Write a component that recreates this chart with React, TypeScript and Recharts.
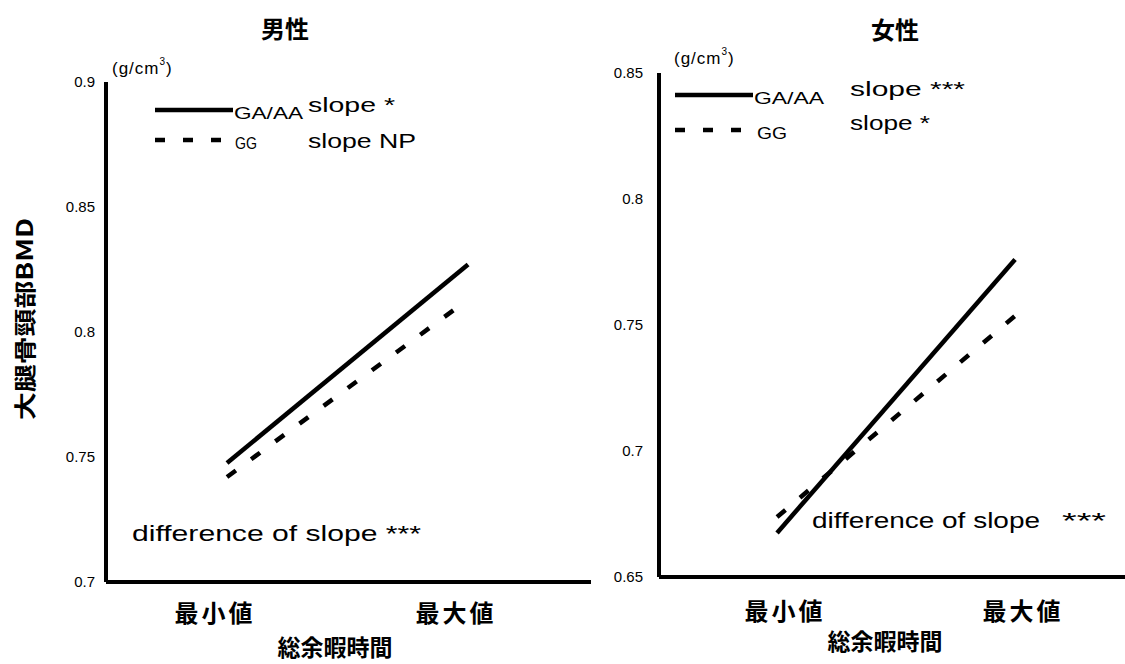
import React from "react";
import { LineChart, Line, XAxis, YAxis, Legend } from "recharts";

const categories = ["最小値", "最大値"];
const seriesNames = ["GA/AA", "GG"];

const maleGAAA = [0.7476, 0.827];
const maleGG = [0.742, 0.813];
const femaleGAAA = [0.6675, 0.776];
const femaleGG = [0.6738, 0.7536];

const maleTicks = [0.7, 0.75, 0.8, 0.85, 0.9];
const femaleTicks = [0.65, 0.7, 0.75, 0.8, 0.85];

const maleData = categories.map((c, i) => ({
  pos: i,
  name: c,
  gaaa: maleGAAA[i],
  gg: maleGG[i],
}));
const femaleData = categories.map((c, i) => ({
  pos: i,
  name: c,
  gaaa: femaleGAAA[i],
  gg: femaleGG[i],
}));

const CJK = '"Noto Sans CJK JP", "Noto Sans CJK SC", sans-serif';
const LATIN = '"Liberation Sans", Arial, sans-serif';

function XTick(props: any) {
  const { x, y, payload, dx, dy } = props;
  return (
    <text
      x={x + dx}
      y={y + dy}
      textAnchor="middle"
      dominantBaseline="central"
      fontSize={24}
      fontWeight="bold"
      fontFamily={CJK}
      letterSpacing={3}
      fill="#000"
    >
      {categories[payload.value]}
    </text>
  );
}

// legend drawn as two short line samples with their labels
function LegendBox(props: any) {
  const { rows } = props;
  return (
    <svg width={200} height={70} style={{ overflow: "visible" }}>
      {rows.map((r: any, i: number) => (
        <g key={i}>
          <line
            x1={5}
            x2={r.len}
            y1={r.y}
            y2={r.y}
            stroke="#000"
            strokeWidth={4.5}
            strokeDasharray={i === 1 ? "10 18" : undefined}
          />
          <text
            x={r.tx}
            y={r.y + 3}
            dominantBaseline="central"
            fontSize={16}
            fontFamily={LATIN}
            textLength={r.tw}
            lengthAdjust="spacingAndGlyphs"
            fill="#000"
          >
            {seriesNames[i]}
          </text>
        </g>
      ))}
    </svg>
  );
}

function Panel(props: any) {
  const {
    data,
    ticks,
    yDomain,
    xDomain,
    left,
    width,
    margin,
    yTickMargin,
    tickDx,
    tickDy,
    legendLeft,
    legendTop,
    legendRows,
  } = props;
  return (
    <div style={{ position: "absolute", left, top: 0 }}>
      <LineChart width={width} height={664} data={data} margin={margin}>
        <XAxis
          dataKey="pos"
          type="number"
          domain={xDomain}
          ticks={[0, 1]}
          allowDataOverflow
          height={40}
          tickSize={0}
          tickMargin={0}
          tickLine={false}
          axisLine={{ stroke: "#000", strokeWidth: 4 }}
          tick={(p: any) => <XTick {...p} dx={tickDx} dy={tickDy} />}
        />
        <YAxis
          type="number"
          domain={yDomain}
          ticks={ticks}
          allowDataOverflow
          width={40}
          tickSize={4}
          tickMargin={yTickMargin}
          tickLine={false}
          axisLine={{ stroke: "#000", strokeWidth: 4 }}
          tick={{ fontSize: 15, fontFamily: LATIN, fill: "#000" }}
          tickFormatter={(v: number) => String(v)}
        />
        <Legend
          content={() => <LegendBox rows={legendRows} />}
          wrapperStyle={{
            position: "absolute",
            left: legendLeft,
            top: legendTop,
            width: 0,
            height: 0,
            overflow: "visible",
          }}
        />
        <Line
          type="linear"
          dataKey="gaaa"
          name={seriesNames[0]}
          stroke="#000"
          strokeWidth={4.5}
          dot={false}
          isAnimationActive={false}
        />
        <Line
          type="linear"
          dataKey="gg"
          name={seriesNames[1]}
          stroke="#000"
          strokeWidth={4.5}
          strokeDasharray="11 19"
          dot={false}
          isAnimationActive={false}
        />
      </LineChart>
    </div>
  );
}

function Note(props: any) {
  const { x, y, w, size = 21, children } = props;
  return (
    <text
      x={x}
      y={y}
      dominantBaseline="central"
      fontSize={size}
      fontFamily={LATIN}
      textLength={w}
      lengthAdjust="spacingAndGlyphs"
      fill="#000"
    >
      {children}
    </text>
  );
}

function Unit(props: any) {
  const { x, y } = props;
  return (
    <text
      x={x}
      y={y}
      dominantBaseline="central"
      fontSize={17}
      fontFamily={LATIN}
      letterSpacing={1}
      fill="#000"
    >
      (g/cm
      <tspan fontSize={10} dy={-7}>
        3
      </tspan>
      <tspan dy={7}>)</tspan>
    </text>
  );
}

export default function App() {
  return (
    <div
      style={{
        position: "absolute",
        left: 0,
        top: 0,
        width: 1125,
        height: 664,
        background: "#fff",
        overflow: "hidden",
      }}
    >
      <Panel
        data={maleData}
        ticks={maleTicks}
        yDomain={[0.7, 0.9]}
        xDomain={[-0.502, 1.51]}
        left={0}
        width={600}
        margin={{ top: 82, right: 9, bottom: 42, left: 66 }}
        yTickMargin={7}
        tickDx={-12}
        tickDy={29}
        legendLeft={150}
        legendTop={95}
        legendRows={[
          { y: 15, len: 83, tx: 84, tw: 69 },
          { y: 45, len: 75, tx: 85, tw: 22 },
        ]}
      />
      <Panel
        data={femaleData}
        ticks={femaleTicks}
        yDomain={[0.65, 0.85]}
        xDomain={[-0.496, 1.462]}
        left={560}
        width={565}
        margin={{ top: 73, right: 0, bottom: 47, left: 59 }}
        yTickMargin={12}
        tickDx={8}
        tickDy={32}
        legendLeft={110}
        legendTop={80}
        legendRows={[
          { y: 15, len: 83, tx: 84, tw: 70 },
          { y: 50, len: 78, tx: 87, tw: 30 },
        ]}
      />
      <svg
        width={1125}
        height={664}
        style={{ position: "absolute", left: 0, top: 0, pointerEvents: "none" }}
      >
        <g fontFamily={CJK} fontWeight="bold" fill="#000">
          <text x={285} y={27} textAnchor="middle" dominantBaseline="central" fontSize={24}>
            男性
          </text>
          <text x={895} y={28} textAnchor="middle" dominantBaseline="central" fontSize={24}>
            女性
          </text>
          <text x={335} y={646} textAnchor="middle" dominantBaseline="central" fontSize={23}>
            総余暇時間
          </text>
          <text x={885} y={640} textAnchor="middle" dominantBaseline="central" fontSize={23}>
            総余暇時間
          </text>
          <text
            x={23}
            y={319}
            transform="rotate(-90 23 319)"
            textAnchor="middle"
            dominantBaseline="central"
            fontSize={22}
            textLength={202}
            lengthAdjust="spacingAndGlyphs"
          >
            大腿骨頸部BMD
          </text>
        </g>
        <Unit x={112} y={68} />
        <Unit x={674} y={58} />
        <Note x={308} y={104} w={87}>slope *</Note>
        <Note x={308} y={140} w={108}>slope NP</Note>
        <Note x={850} y={88} w={115}>slope ***</Note>
        <Note x={850} y={122} w={80}>slope *</Note>
        <Note x={132} y={533} w={289} size={22}>
          difference of slope ***
        </Note>
        <Note x={812} y={520} w={228} size={22}>
          difference of slope
        </Note>
        <Note x={1062} y={520} w={44} size={22}>
          ***
        </Note>
      </svg>
    </div>
  );
}
